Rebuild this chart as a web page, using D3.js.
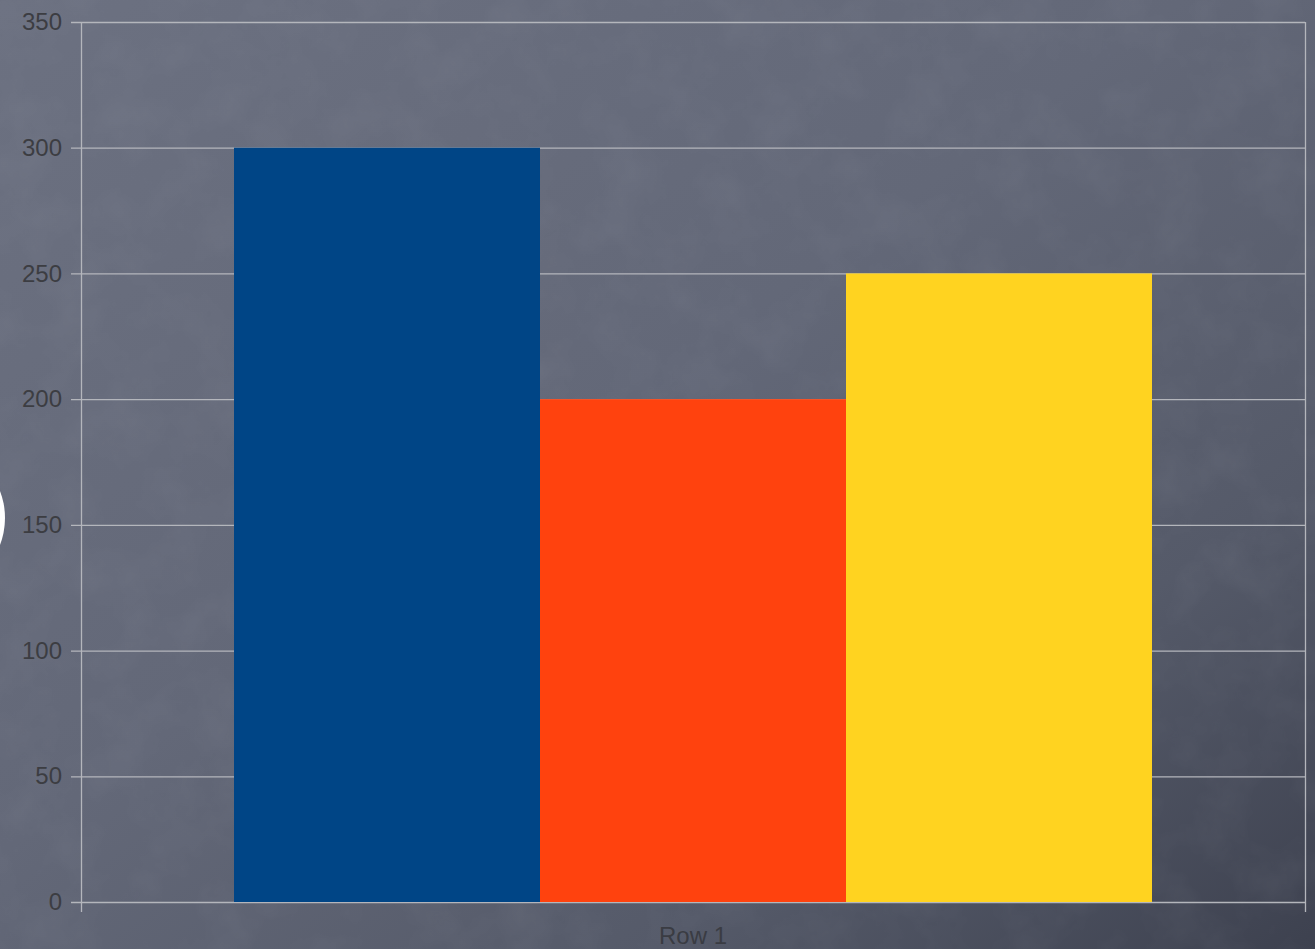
<!DOCTYPE html>
<html><head><meta charset="utf-8">
<script src="https://cdn.jsdelivr.net/npm/d3@7"></script>
<style>html,body{margin:0;padding:0;background:#585c6a;overflow:hidden}</style>
</head><body>
<svg id="chart" width="1315" height="949"></svg>
<script>
const categories = ["Row 1"];
const seriesNames = ["Column 1", "Column 2", "Column 3"];
const seriesValues = [300, 200, 250];
const seriesColors = ["#004586", "#ff420e", "#ffd320"];
const yTicks = [0, 50, 100, 150, 200, 250, 300, 350];

const W = 1315, H = 949;
const m = {left: 81, right: 10, top: 22, bottom: 47};
const svg = d3.select("#chart");
const defs = svg.append("defs");

const bg = defs.append("linearGradient").attr("id","bg").attr("x1","0").attr("y1","0").attr("x2","1").attr("y2","1");
bg.append("stop").attr("offset","0").attr("stop-color","#6c7181");
bg.append("stop").attr("offset","0.45").attr("stop-color","#636878");
bg.append("stop").attr("offset","0.75").attr("stop-color","#555a69");
bg.append("stop").attr("offset","1").attr("stop-color","#3d414f");
const f = defs.append("filter").attr("id","noise").attr("x",0).attr("y",0).attr("width","100%").attr("height","100%");
f.append("feTurbulence").attr("type","fractalNoise").attr("baseFrequency","0.02").attr("numOctaves",4).attr("seed",5).attr("result","t");
f.append("feColorMatrix").attr("type","matrix").attr("values","0 0 0 0 0.55  0 0 0 0 0.57  0 0 0 0 0.63  0 0 0 -0.9 0.55");

svg.append("rect").attr("width",W).attr("height",H).attr("fill","url(#bg)");
svg.append("rect").attr("width",W).attr("height",H).attr("fill","#fff").attr("filter","url(#noise)").attr("opacity",0.12);

// decorative white edge at the left
svg.append("circle").attr("cx",-70).attr("cy",518).attr("r",75).attr("fill","#ffffff");

const plotW = W - m.right - m.left;
const x0b = d3.scaleBand().domain(categories).range([m.left + plotW*0.125, W - m.right - plotW*0.125]);
const x1 = d3.scaleBand().domain(seriesNames).range([0, x0b.bandwidth()]);
const y = d3.scaleLinear().domain([0, 350]).range([H - m.bottom, m.top]);

const gridColor = "#b4b6bc";
const yAxis = d3.axisLeft(y).tickValues(yTicks).tickSize(10).tickPadding(9).tickFormat(d3.format("d"));
const gy = svg.append("g").attr("transform",`translate(${m.left},0)`).call(yAxis);
gy.select(".domain").remove();
gy.selectAll(".tick line").attr("stroke",gridColor).attr("stroke-width",1.3).attr("x2", -10).attr("x1", plotW);
gy.selectAll(".tick text").attr("fill","#3c3d42").attr("font-family","Liberation Sans, Arial, sans-serif").attr("font-size",24).attr("x",-19);

svg.append("line").attr("x1",m.left+0.5).attr("x2",m.left+0.5).attr("y1",m.top).attr("y2",H-m.bottom+10).attr("stroke",gridColor).attr("stroke-width",1.3);
svg.append("line").attr("x1",W-m.right+0.5).attr("x2",W-m.right+0.5).attr("y1",m.top).attr("y2",H-m.bottom+10).attr("stroke",gridColor).attr("stroke-width",1.3);

const rows = categories.map(c => ({cat: c, vals: seriesNames.map((s,i) => ({s, v: seriesValues[i], c: seriesColors[i]}))}));
svg.append("g").selectAll("g").data(rows).join("g")
  .attr("transform", d => `translate(${x0b(d.cat)},0)`)
  .selectAll("rect").data(d => d.vals).join("rect")
  .attr("x", d => x1(d.s)).attr("width", x1.bandwidth())
  .attr("y", d => y(d.v)).attr("height", d => y(0) - y(d.v))
  .attr("fill", d => d.c);

const xAxis = d3.axisBottom(x0b).tickSize(0).tickPadding(0);
const gx = svg.append("g").attr("transform",`translate(0,${H - m.bottom})`).call(xAxis);
gx.select(".domain").remove();
gx.selectAll(".tick text").attr("fill","#3a3c43").attr("font-family","Liberation Sans, Arial, sans-serif").attr("font-size",24).attr("dy",null).attr("y",42);
</script>
</body></html>
